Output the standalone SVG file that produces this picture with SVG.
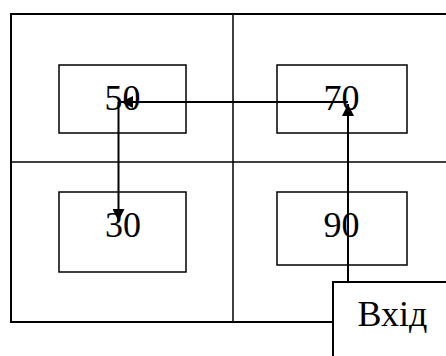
<svg xmlns="http://www.w3.org/2000/svg" width="446" height="356" viewBox="0 0 446 356">
<style>
.frame{fill:none;stroke:#000;stroke-width:2}
.grid{fill:none;stroke:#000;stroke-width:1.5}
.box{fill:#fff;stroke:#000;stroke-width:1.5}
.lbl{font-family:"Liberation Serif","Times New Roman",serif;font-size:36px;fill:#000;text-anchor:middle}
.conn{fill:none;stroke:#000;stroke-width:2}
</style>
<defs>
<marker id="ah" viewBox="0 0 12 12" refX="12" refY="6" markerWidth="12" markerHeight="12" markerUnits="userSpaceOnUse" orient="auto">
<path d="M0,0 L12,6 L0,12 Z" fill="#000"/>
</marker>
</defs>
<g id="frame">
<rect class="frame" x="11" y="14" width="460" height="308"/>
<line class="grid" x1="11" y1="162" x2="446" y2="162"/>
<line class="grid" x1="233" y1="14" x2="233" y2="322"/>
</g>
<g id="n50">
<rect class="box" x="59" y="65" width="127" height="68"/>
<text class="lbl" x="122.5" y="110">50</text>
</g>
<g id="n70">
<rect class="box" x="277" y="65" width="130" height="68"/>
<text class="lbl" x="341.5" y="110">70</text>
</g>
<g id="n30">
<rect class="box" x="59" y="192" width="127" height="80"/>
<text class="lbl" x="123" y="237">30</text>
</g>
<g id="n90">
<rect class="box" x="277" y="192" width="130" height="73"/>
<text class="lbl" x="341.5" y="237">90</text>
</g>
<g id="input">
<rect class="box" x="333" y="282" width="150" height="100" style="stroke-width:2"/>
<text class="lbl" x="392.5" y="326">Вхід</text>
</g>
<g id="connectors">
<line class="conn" x1="348" y1="282" x2="348" y2="104" marker-end="url(#ah)"/>
<line class="conn" x1="348" y1="102" x2="121" y2="102" marker-end="url(#ah)"/>
<line class="conn" x1="118.5" y1="102" x2="118.5" y2="221" marker-end="url(#ah)"/>
</g>
</svg>
